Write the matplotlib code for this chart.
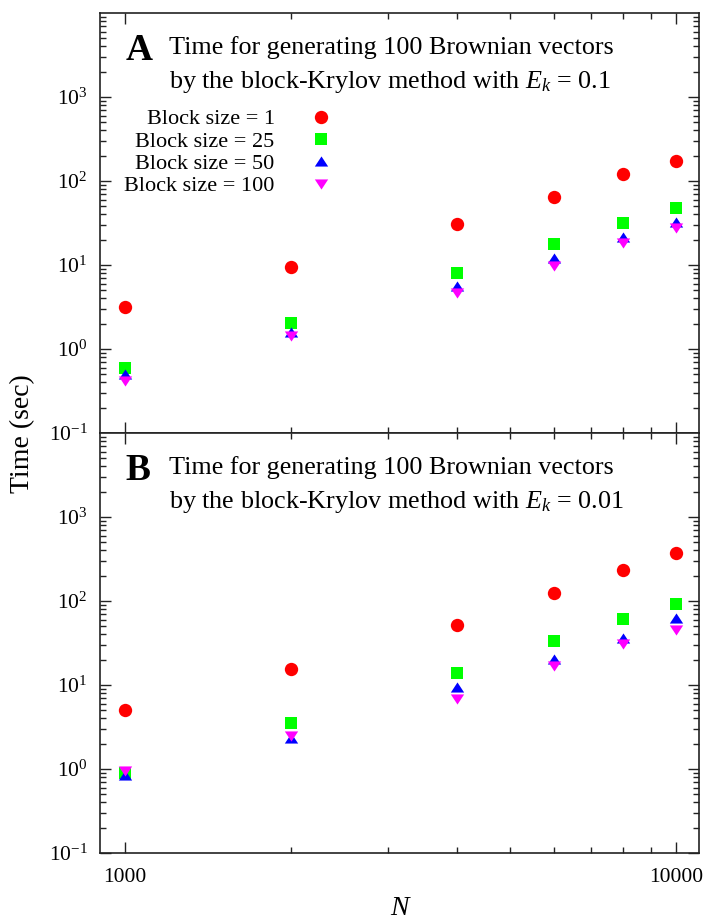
import matplotlib
matplotlib.use('Agg')
import matplotlib.pyplot as plt
import numpy as np
from matplotlib.ticker import LogLocator, NullFormatter, FixedLocator

plt.rcParams['font.family'] = ['Liberation Serif', 'DejaVu Serif']
plt.rcParams['mathtext.fontset'] = 'custom'
plt.rcParams['mathtext.rm'] = 'Liberation Serif'
plt.rcParams['mathtext.it'] = 'Liberation Serif:italic'

# System size
N = [1000, 2000, 4000, 6000, 8000, 10000]

# Panel A: E_k = 0.1
a_bs1 = [3.2, 9.5, 30.8, 65, 121, 174]
a_bs25 = [0.60, 2.06, 8.1, 17.6, 31.9, 48]
a_bs50 = [0.51, 1.6, 5.6, 12, 21.7, 32.7]
a_bs100 = [0.42, 1.44, 4.6, 9.7, 18.1, 27.4]

# Panel B: E_k = 0.01
b_bs1 = [5.0, 15.4, 51.8, 123, 234, 369]
b_bs25 = [0.89, 3.5, 13.8, 33.4, 60.5, 91]
b_bs50 = [0.85, 2.35, 9.5, 20.2, 36, 63]
b_bs100 = [0.95, 2.5, 6.9, 17, 30.5, 45]

labels = ['Block size = 1', 'Block size = 25', 'Block size = 50', 'Block size = 100']
colors = ['#ff0000', '#00ff00', '#0000ff', '#ff00ff']

tri_up = [(-1, -0.76), (1, -0.76), (0, 0.76)]
tri_dn = [(-1, 0.76), (1, 0.76), (0, -0.76)]
markers = ['o', 's', tri_up, tri_dn]
msizes = [9.6, 9.2, 9.6, 9.6]

fig = plt.figure(figsize=(7.1, 9.21), dpi=100)
ax_a = fig.add_axes([100/710, 1-433/921, 599/710, 420/921])
ax_b = fig.add_axes([100/710, 1-853/921, 599/710, 420/921])

panels = [
    (ax_a, [a_bs1, a_bs25, a_bs50, a_bs100], 'A', '0.1'),
    (ax_b, [b_bs1, b_bs25, b_bs50, b_bs100], 'B', '0.01'),
]

for ax, series, letter, ek in panels:
    for ys, lab, col, mk, ms in zip(series, labels, colors, markers, msizes):
        ax.plot(N, ys, linestyle='none', marker=mk, markersize=ms, color=col,
                markeredgewidth=0, label=lab)
    ax.set_xscale('log')
    ax.set_yscale('log')
    ax.set_xlim(900, 11000)
    ax.set_ylim(0.1, 1e4)

    ax.set_xticks([1000, 10000])
    ax.set_xticklabels(['1000', '10000'])
    ax.xaxis.set_minor_locator(FixedLocator([2000, 3000, 4000, 5000, 6000, 7000, 8000, 9000]))
    ax.xaxis.set_minor_formatter(NullFormatter())
    ax.set_yticks([0.1, 1, 10, 100, 1000])
    ax.yaxis.set_minor_locator(LogLocator(base=10, subs=np.arange(2, 10), numticks=20))
    ax.yaxis.set_minor_formatter(NullFormatter())

    ax.tick_params(which='both', direction='in', top=True, right=True, width=1, color='#222222')
    ax.tick_params(which='major', length=8, labelsize=15.5)
    ax.tick_params(which='minor', length=4)
    ax.tick_params(axis='y', pad=9)
    ax.tick_params(axis='x', pad=11)
    for sp in ax.spines.values():
        sp.set_linewidth(1.2)
        sp.set_color('#222222')

    ax.text(0.043, 0.888, letter, transform=ax.transAxes, fontsize=27, fontweight='bold',
            va='baseline', ha='left')
    ax.text(0.115, 0.902, 'Time for generating 100 Brownian vectors', transform=ax.transAxes,
            fontsize=18.8, va='baseline', ha='left')
    ax.text(0.115, 0.821, 'by the block-Krylov method with $E_k$ = ' + ek, transform=ax.transAxes,
            fontsize=18.8, va='baseline', ha='left')

ax_a.tick_params(axis='x', labelbottom=False)

# legend only in panel A, labels right-aligned left of markers
leg = ax_a.legend(loc='upper right', bbox_to_anchor=(0.387, 0.772), frameon=False,
                  markerfirst=False, fontsize=16, handlelength=1.0, handletextpad=1.57,
                  borderpad=0, borderaxespad=0, labelspacing=0.08)
for col in leg._legend_handle_box.get_children():
    col.align = 'right'

fig.text(23/710, 1-434/921, 'Time (sec)', rotation=90, fontsize=20, ha='center', va='center')
fig.text(399/710, 1-908/921, 'N', fontsize=20, style='italic', ha='center', va='center')

fig.savefig('out.png', dpi=100)
